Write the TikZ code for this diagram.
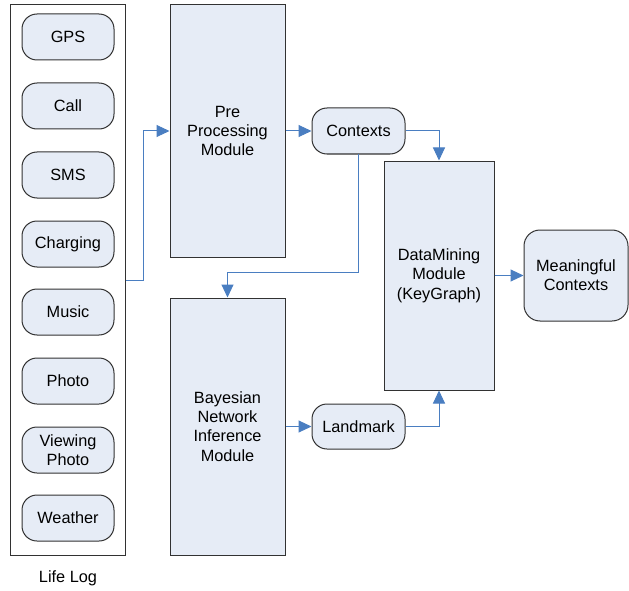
\documentclass[tikz,border=0pt]{standalone}
\usepackage{fontspec}
\setmainfont{Liberation Sans}
\usetikzlibrary{arrows.meta}
\definecolor{boxfill}{RGB}{230,236,246}
\definecolor{boxline}{RGB}{50,50,50}
\definecolor{conn}{RGB}{74,126,193}
\begin{document}
\begin{tikzpicture}[x=1pt,y=-1pt,
  every node/.style={font=\fontsize{16.3}{19.3}\selectfont, align=center, inner sep=0pt},
  plainbox/.style={draw=boxline, line width=1pt, rectangle},
  modbox/.style={draw=boxline, line width=1pt, fill=boxfill, rectangle},
  itembox/.style={draw=boxline, line width=1pt, fill=boxfill, rounded corners=15pt, minimum width=92pt, minimum height=46pt},
  conn/.style={draw=conn, line width=1pt, -{Triangle[length=13pt,width=12pt]}}
]
\useasboundingbox (0,0) rectangle (629,591);
\node[plainbox, minimum width=115pt, minimum height=550pt] (lifelog) at (67.5,280) {};
\node[itembox] (gps) at (68,37) {GPS};
\node[itembox] (call) at (68,106) {Call};
\node[itembox] (sms) at (68,175) {SMS};
\node[itembox] (charging) at (68,244) {Charging};
\node[itembox] (music) at (68,312) {Music};
\node[itembox] (photo) at (68,381) {Photo};
\node[itembox] (viewing) at (68,450) {Viewing\\Photo};
\node[itembox] (weather) at (68,518) {Weather};
\node (lifeloglabel) at (68,578) {Life Log};

\node[modbox, minimum width=115pt, minimum height=252pt] (pre) at (227.5,131) {Pre\\Processing\\Module};
\node[modbox, minimum width=115pt, minimum height=257pt] (bayes) at (227.5,426.5) {Bayesian\\Network\\Inference\\Module};
\node[itembox, minimum width=93pt] (contexts) at (358.5,131) {Contexts};
\node[itembox, minimum width=93pt, minimum height=45pt] (landmark) at (358.5,426.5) {Landmark};
\node[modbox, minimum width=110pt, minimum height=229pt] (dm) at (439,275.5) {DataMining\\Module\\(KeyGraph)};
\node[itembox, rounded corners=16pt, minimum width=104pt, minimum height=91pt] (meaning) at (576,275.5) {Meaningful\\Contexts};

\draw[conn] (lifelog.east) -- (143,280) |- (pre.west);
\draw[conn] (pre.east) -- (contexts.west);
\draw[conn] (contexts.east) -| (dm.north);
\draw[conn] (contexts.south) -- (358.5,272) -| (bayes.north);
\draw[conn] (bayes.east) -- (landmark.west);
\draw[conn] (landmark.east) -| (dm.south);
\draw[conn] (dm.east) -- (meaning.west);
\end{tikzpicture}
\end{document}
